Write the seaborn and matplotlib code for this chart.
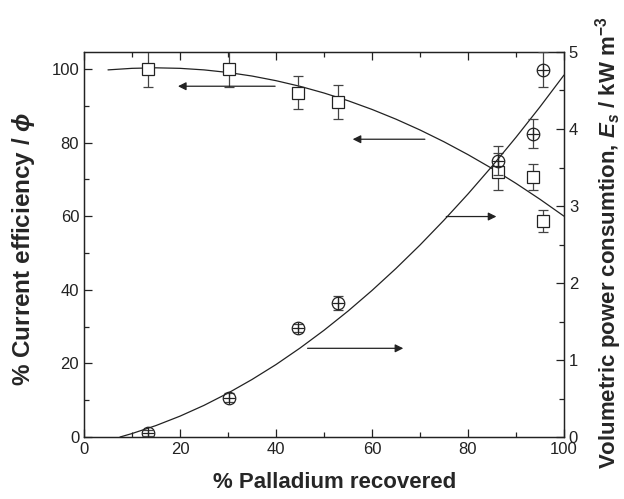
import numpy as np
import pandas as pd
import seaborn as sns
import matplotlib
matplotlib.use('Agg')
import matplotlib.pyplot as plt
from matplotlib.ticker import MultipleLocator

# measured points
pd_recovered = [13.3, 30.3, 44.6, 53.0, 86.3, 93.6, 95.6]
efficiency = [100.0, 100.0, 93.5, 91.0, 72.1, 70.6, 58.7]
efficiency_err = [5.0, 5.0, 4.5, 4.5, 5.0, 3.5, 2.9]
power = [0.05, 0.51, 1.42, 1.74, 3.59, 3.94, 4.77]
power_err = [0.04, 0.06, 0.05, 0.09, 0.19, 0.19, 0.23]

# fitted curves
fit_x = [5, 10, 15, 20, 25, 30, 35, 40, 45, 50, 55, 60, 65, 70, 75, 80, 85, 90, 95, 100]
eff_fit_y = [99.74, 100.16, 100.3, 100.16, 99.74, 99.04, 98.07, 96.81, 95.28, 93.46,
             91.37, 89.0, 86.35, 83.42, 80.21, 76.72, 72.96, 68.91, 64.59, 60.0]
pow_fit_x = [7.5, 10, 15, 20, 25, 30, 35, 40, 45, 50, 55, 60, 65, 70, 75, 80, 85, 90, 95, 100]
pow_fit_y = [0.0, 0.045, 0.149, 0.271, 0.411, 0.570, 0.747, 0.941, 1.155, 1.386,
             1.635, 1.903, 2.189, 2.493, 2.816, 3.156, 3.515, 3.892, 4.287, 4.70]

sns.set_theme(style='ticks')
plt.rcParams['font.family'] = ['Liberation Sans', 'DejaVu Sans']
plt.rcParams['mathtext.fontset'] = 'custom'
plt.rcParams['mathtext.rm'] = 'Liberation Sans:bold'
plt.rcParams['mathtext.it'] = 'Liberation Sans:bold:italic'
plt.rcParams['mathtext.bf'] = 'Liberation Sans:bold'

fig = plt.figure(figsize=(6.24, 4.99), dpi=100)
ax = fig.add_axes([0.1346, 0.1242, 0.9038 - 0.1346, 0.8958 - 0.1242])
ax2 = ax.twinx()

ink = '#222222'

sns.lineplot(x=fit_x, y=eff_fit_y, ax=ax, color=ink, lw=0.9)
sns.lineplot(x=pow_fit_x, y=pow_fit_y, ax=ax2, color=ink, lw=0.9)

ax.errorbar(pd_recovered, efficiency, yerr=efficiency_err, fmt='s', ms=9,
            mfc='white', mec=ink, mew=0.9, ecolor='#444444', elinewidth=0.9,
            capsize=3.5, capthick=0.9, zorder=3)
ax2.errorbar(pd_recovered, power, yerr=power_err, fmt='o', ms=9,
             mfc='none', mec=ink, mew=0.9, ecolor='#444444', elinewidth=0.9,
             capsize=3.5, capthick=0.9, zorder=3)
ax2.plot(pd_recovered, power, '+', ms=9, mew=0.9, color=ink, zorder=4)

# arrows pointing to the axis each curve belongs to
arrow = dict(arrowstyle='-|>', color=ink, lw=0.9, mutation_scale=12)
ax.annotate('', xy=(19, 95.3), xytext=(40.4, 95.3), arrowprops=arrow)
ax.annotate('', xy=(55.4, 80.9), xytext=(71.6, 80.9), arrowprops=arrow)
ax.annotate('', xy=(86.5, 59.9), xytext=(74.9, 59.9), arrowprops=arrow)
ax.annotate('', xy=(67.1, 24.1), xytext=(46.0, 24.1), arrowprops=arrow)

ax.set_xlim(0, 100)
ax.set_ylim(0, 104.6)
ax2.set_ylim(0, 5)

ax.xaxis.set_major_locator(MultipleLocator(20))
ax.xaxis.set_minor_locator(MultipleLocator(10))
ax.yaxis.set_major_locator(MultipleLocator(20))
ax.yaxis.set_minor_locator(MultipleLocator(10))
ax2.yaxis.set_major_locator(MultipleLocator(1))
ax2.yaxis.set_minor_locator(MultipleLocator(0.5))

ax.tick_params(which='both', direction='in', top=True, labelsize=12, colors=ink, width=0.9)
ax.tick_params(which='major', length=6)
ax.tick_params(which='minor', length=3.5)
ax2.tick_params(which='both', direction='in', labelsize=12, colors=ink, width=0.9)
ax2.tick_params(which='major', length=6)
ax2.tick_params(which='minor', length=3.5)

for a in (ax, ax2):
    for s in a.spines.values():
        s.set_color(ink)
        s.set_linewidth(0.9)

ax.set_xlabel('% Palladium recovered', fontsize=16, fontweight='bold')
ax.set_ylabel(r'% Current efficiency / $\it{\phi}$', fontsize=17.5, fontweight='bold')
ax2.set_ylabel(r'Volumetric power consumtion, $\it{E}_{\it{s}}$ / kW m$^{-3}$',
               fontsize=16, fontweight='bold')

ax.xaxis.set_label_coords(0.523, -0.119)
ax.xaxis.label.set_va('center')
ax.yaxis.set_label_coords(-0.127, 0.488)
ax.yaxis.label.set_va('center')
ax2.yaxis.set_label_coords(1.092, 0.505)
ax2.yaxis.label.set_va('center')

fig.savefig('out.png', dpi=100)
